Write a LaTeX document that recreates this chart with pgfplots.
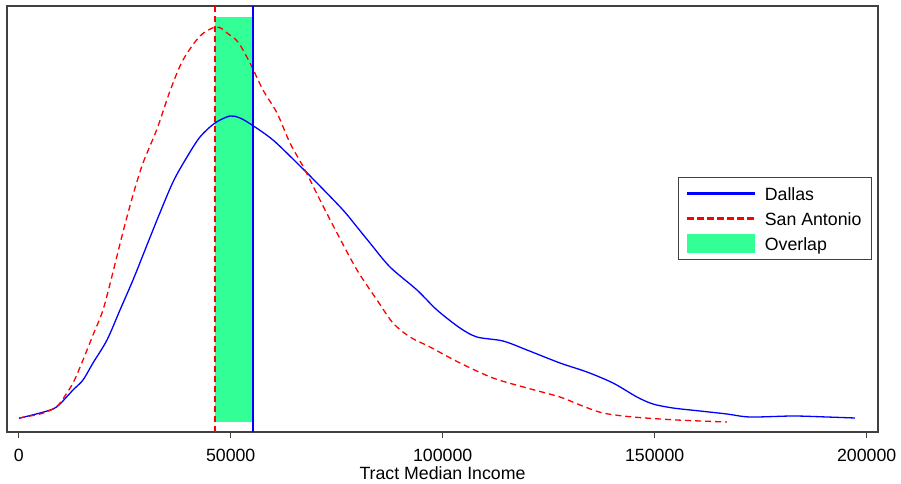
\documentclass[border=0pt]{standalone}
\usepackage{fontspec}
\setmainfont{Liberation Sans}
\usepackage{pgfplots}
\pgfplotsset{compat=1.18}
\definecolor{ovl}{RGB}{50,255,150}
\definecolor{axgray}{RGB}{64,64,64}
\newcommand\fsz{\fontsize{17.8}{21}\selectfont}
\newcommand\legtxt[1]{\raisebox{0pt}[15bp][0pt]{#1}}
\pgfplotsset{
  ovlegend/.style={legend image code/.code={\fill[ovl] (0bp,-9bp) rectangle (67bp,9bp);}},
  dallaslegend/.style={legend image code/.code={\fill[blue] (0bp,-0.65bp) rectangle (67bp,0.65bp);}},
  salegend/.style={legend image code/.code={\foreach \i in {0,10,20,30,40,50,60} {\fill[red] (\i bp,-0.65bp) rectangle ++(6bp,1.3bp);}}},
}
\begin{document}
\begin{tikzpicture}
\begin{axis}[
  scale only axis,
  width=871bp, height=426bp,
  xmin=-2760, xmax=202670,
  ymin=0, ymax=426,
  axis line style={axgray, line width=1.1bp},
  xtick={0,50000,100000,150000,200000},
  xticklabels={0,50000,100000,150000,200000},
  ytick=\empty,
  xtick pos=bottom,
  tick align=outside,
  major tick length=6bp,
  every tick/.style={axgray, line width=0.9bp},
  scaled ticks=false,
  tick label style={font=\fsz},
  xticklabel style={yshift=-8bp},
  xlabel={Tract Median Income},
  xlabel style={font=\fsz, yshift=2bp},
  legend style={font=\fsz, at={(0.993,0.599)}, anchor=north east,
    draw=axgray, line width=0.9bp, inner xsep=8bp, inner ysep=6bp, row sep=4.6bp,
    column sep=8bp,
    cells={anchor=west}},
]
\addplot[fill=ovl, draw=none, forget plot] coordinates {(46300,10) (46300,415) (55260,415) (55260,10)} -- cycle;
\addplot[blue, line width=1.3bp, smooth, tension=0.5, forget plot] coordinates {
(71,13.7) (5024,19) (8090,23) (9741,28) (12807,42) (15165,52) (17523,69)
(20825,92) (23891,122) (26957,152) (29788,182) (32618,212)
(36392,250) (39694,275) (42759,295) (46297,309) (49835,316) (52193,314) (55023,307)
(59976,292) (65636,269) (70353,249) (76485,222) (79787,205) (82853,189)
(87570,165) (93938,142) (98655,122) (104079,104) (108089,95) (114221,91)
(119881,82) (127664,69) (134032,60) (140164,49) (145825,35) (149598,28)
(154315,24) (160683,21) (167051,18) (172475,15) (182617,16) (190636,15) (197240,14)
};
\addplot[red, line width=1.3bp, dash pattern=on 6bp off 4bp, smooth, tension=0.5, forget plot] coordinates {
(71,14) (5024,18) (8090,23) (9741,29) (12807,49) (15165,72) (17523,97)
(19882,122) (22241,160) (24599,200) (26958,237) (29316,269) (32618,303)
(35684,341) (38750,372) (42759,396) (46297,405) (48000,403) (49128,399)
(51722,390) (54552,369) (57618,342) (60920,319) (63986,289)
(67524,262) (71061,232) (75071,199) (79787,162) (84504,132) (88278,109)
(92287,95) (97004,85) (104079,69) (111862,54) (119881,44) (127664,35)
(132381,27) (137806,19) (144881,15) (155259,12) (167051,10)
};
\addplot[red, line width=1.3bp, dash pattern=on 6bp off 4bp, forget plot] coordinates {(46300,0) (46300,426)};
\addplot[blue, line width=1.3bp, forget plot] coordinates {(55260,0) (55260,426)};
\addlegendimage{dallaslegend}
\addlegendentry{\legtxt{Dallas}}
\addlegendimage{salegend}
\addlegendentry{\legtxt{San Antonio}}
\addlegendimage{ovlegend}
\addlegendentry{\legtxt{Overlap}}
\end{axis}
\path ([xshift=-7bp,yshift=-47bp]current axis.south west) rectangle ([xshift=23bp,yshift=6bp]current axis.north east);
\end{tikzpicture}
\end{document}
